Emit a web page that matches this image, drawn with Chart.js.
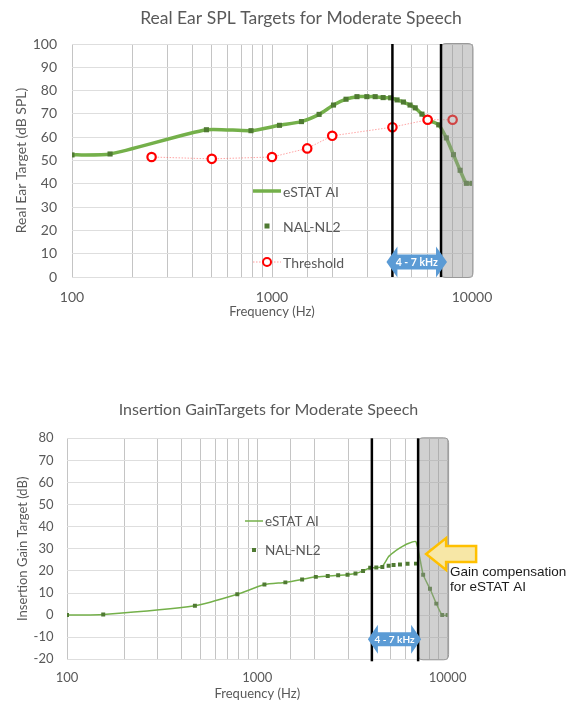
<!DOCTYPE html>
<html>
<head>
<meta charset="utf-8">
<script src="https://cdn.jsdelivr.net/npm/chart.js@4.4.1/dist/chart.umd.min.js"></script>
<style>
  body { margin: 0; background: #fff; }
  canvas { position: absolute; left: 0; }
  #splChart { top: 0; }
  #gainChart { top: 390px; }
</style>
</head>
<body>
<canvas id="splChart" width="571" height="330"></canvas>
<canvas id="gainChart" width="571" height="312"></canvas>
<script>
// frequencies (Hz) of the target points, shared by both charts
const freqs = [100, 155, 470, 785, 1090, 1404, 1720, 2030, 2345, 2660, 2980, 3280, 3595, 3920,
  4220, 4540, 4900, 5200, 5620, 6160, 6820, 7440, 8080, 8720, 9370, 10000];

// Real ear SPL targets (dB SPL)
const nalSpl = [52.4, 52.8, 63.2, 62.8, 65.1, 66.7, 69.8, 73.8, 76.3, 77.4, 77.4, 77.4, 77.0, 76.9,
  76.0, 75.1, 73.8, 72.6, 69.9, 67.1, 65.3, 59.7, 52.5, 45.8, 40.2, 40.2];
const estatSpl = [52.4, 52.8, 63.2, 62.8, 65.1, 66.7, 69.8, 73.8, 76.3, 77.4, 77.4, 77.4, 77.0, 76.9,
  76.0, 75.1, 73.8, 72.6, 69.9, 67.1, 65.3, 59.7, 52.5, 45.8, 40.2, 40.2];

// hearing threshold
const thresholdFreqs = [250, 500, 1000, 1500, 2000, 4000, 6000, 8000];
const thresholdSpl = [51.5, 50.7, 51.5, 55.2, 60.6, 64.3, 67.5, 67.5];

// insertion gain targets (dB)
const nalGain = [0, 0.3, 4.2, 9.4, 13.8, 14.8, 16.1, 17.3, 17.7, 18.0, 18.3, 18.8, 20.0, 21.4,
  21.5, 21.8, 22.3, 22.7, 22.9, 23.2, 23.3, 18.3, 11.9, 5.2, 0, 0];
const estatGain = [0, 0.3, 4.2, 9.4, 13.8, 14.8, 16.1, 17.3, 17.7, 18.0, 18.3, 18.8, 20.0, 21.4,
  21.5, 22.0, 26.5, 28.4, 30.4, 32.3, 33.2, 18.3, 11.9, 5.2, 0, 0];

const freqTicks = [100, 1000, 10000];
const band = [4000, 7000]; // 4 - 7 kHz region
const cutoff = [7000, 10000]; // shaded region

const GREEN = '#74b04a';
const DARK_GREEN = '#4f7a32';
const TEXT = '#595959';

Chart.defaults.font.family = 'Lato';
Chart.defaults.color = TEXT;

function pts(xs, ys) {
  return xs.map((f, i) => ({ x: f, y: ys[i] }));
}

function roundRect(ctx, x, y, w, h, r) {
  ctx.beginPath();
  ctx.moveTo(x + r, y);
  ctx.lineTo(x + w - r, y);
  ctx.quadraticCurveTo(x + w, y, x + w, y + r);
  ctx.lineTo(x + w, y + h - r);
  ctx.quadraticCurveTo(x + w, y + h, x + w - r, y + h);
  ctx.lineTo(x + r, y + h);
  ctx.quadraticCurveTo(x, y + h, x, y + h - r);
  ctx.lineTo(x, y + r);
  ctx.quadraticCurveTo(x, y, x + r, y);
  ctx.closePath();
}

// draws title, shaded band, 4-7 kHz marker, legend and notes
const decor = {
  id: 'decor',
  afterDatasetsDraw(chart, args, o) {
    const { ctx, chartArea: a, scales: { x } } = chart;
    const x4 = x.getPixelForValue(band[0]);
    const x7 = x.getPixelForValue(band[1]);
    const xs = x.getPixelForValue(cutoff[0]);
    const xe = x.getPixelForValue(cutoff[1]);
    ctx.save();

    // shaded area above 7 kHz
    roundRect(ctx, xs, a.top - 0.5, xe - xs + 1, a.bottom - a.top + 1, 5);
    ctx.fillStyle = 'rgba(150,150,150,0.45)';
    ctx.fill();
    ctx.strokeStyle = '#999';
    ctx.lineWidth = 1;
    ctx.stroke();

    // band edges
    ctx.strokeStyle = '#000';
    ctx.lineWidth = 2.5;
    [x4, x7].forEach(px => {
      ctx.beginPath();
      ctx.moveTo(px, a.top);
      ctx.lineTo(px, a.bottom + o.edgeExtra);
      ctx.stroke();
    });

    // double arrow
    const ar = o.arrow;
    const l = x4 + ar.dl, r = x7 + ar.dr, cy = a.bottom - ar.up;
    ctx.beginPath();
    ctx.moveTo(l, cy);
    ctx.lineTo(l + ar.head, cy - ar.hh);
    ctx.lineTo(l + ar.head, cy - ar.bh);
    ctx.lineTo(r - ar.head, cy - ar.bh);
    ctx.lineTo(r - ar.head, cy - ar.hh);
    ctx.lineTo(r, cy);
    ctx.lineTo(r - ar.head, cy + ar.hh);
    ctx.lineTo(r - ar.head, cy + ar.bh);
    ctx.lineTo(l + ar.head, cy + ar.bh);
    ctx.lineTo(l + ar.head, cy + ar.hh);
    ctx.closePath();
    ctx.fillStyle = '#5b9bd5';
    ctx.fill();
    ctx.fillStyle = '#fff';
    ctx.font = 'bold ' + ar.font + 'px Lato';
    ctx.textAlign = 'center';
    ctx.textBaseline = 'middle';
    ctx.fillText('4 - 7 kHz', (l + r) / 2, cy + 0.5);

    // title
    ctx.fillStyle = TEXT;
    ctx.font = o.title.size + 'px Lato';
    ctx.fillText(o.title.text, o.title.x, o.title.y);

    // legend
    ctx.textAlign = 'left';
    ctx.font = o.legend.size + 'px Lato';
    o.legend.items.forEach(it => {
      const lx = o.legend.x, y = it.y, w = o.legend.w;
      if (it.kind === 'line') {
        ctx.strokeStyle = GREEN;
        ctx.lineWidth = it.width;
        ctx.beginPath();
        ctx.moveTo(lx, y);
        ctx.lineTo(lx + w, y);
        ctx.stroke();
      } else if (it.kind === 'rect') {
        ctx.fillStyle = DARK_GREEN;
        ctx.fillRect(lx + w / 2 - it.s / 2, y - it.s / 2, it.s, it.s);
      } else {
        ctx.strokeStyle = 'rgba(255,90,90,0.6)';
        ctx.lineWidth = 1;
        ctx.setLineDash([1.5, 1.5]);
        ctx.beginPath();
        ctx.moveTo(lx, y);
        ctx.lineTo(lx + w, y);
        ctx.stroke();
        ctx.setLineDash([]);
        ctx.fillStyle = '#fff';
        ctx.strokeStyle = '#ff0000';
        ctx.lineWidth = 2;
        ctx.beginPath();
        ctx.arc(lx + w / 2, y, 4, 0, Math.PI * 2);
        ctx.fill();
        ctx.stroke();
      }
      ctx.fillStyle = TEXT;
      ctx.fillText(it.text, lx + w + o.legend.gap, y + 1);
    });

    // gain compensation note
    if (o.note) {
      const n = o.note;
      const tx = xs + n.dx;
      ctx.beginPath();
      ctx.moveTo(tx, n.y);
      ctx.lineTo(tx + n.head, n.y - n.hh);
      ctx.lineTo(tx + n.head, n.y - n.bh);
      ctx.lineTo(tx + n.len, n.y - n.bh);
      ctx.lineTo(tx + n.len, n.y + n.bh);
      ctx.lineTo(tx + n.head, n.y + n.bh);
      ctx.lineTo(tx + n.head, n.y + n.hh);
      ctx.closePath();
      ctx.fillStyle = '#f7e7a6';
      ctx.fill();
      ctx.strokeStyle = '#ffc000';
      ctx.lineWidth = 2.5;
      ctx.lineJoin = 'miter';
      ctx.stroke();
      ctx.fillStyle = '#1a1a1a';
      ctx.font = n.size + 'px "Liberation Sans"';
      n.lines.forEach((t, i) => ctx.fillText(t, n.tx, n.ty + i * n.lh));
    }
    ctx.restore();
  }
};

function xScale(labelSize, pad, height, titleSize, titlePad) {
  return {
    type: 'logarithmic',
    min: 100,
    max: 10000,
    afterFit: s => { s.height = height; },
    grid: { color: '#c4c4c4', drawTicks: false },
    border: { display: false },
    ticks: {
      autoSkip: false,
      maxRotation: 0,
      padding: pad,
      font: { size: labelSize },
      callback: v => freqTicks.includes(Math.round(v)) ? String(Math.round(v)) : ''
    },
    title: { display: true, text: 'Frequency (Hz)', font: { size: titleSize }, padding: { top: 0, bottom: titlePad } }
  };
}

// ---- Real Ear SPL chart ----
new Chart(document.getElementById('splChart'), {
  type: 'line',
  data: {
    datasets: [
      {
        label: 'Threshold',
        data: pts(thresholdFreqs, thresholdSpl),
        borderColor: 'rgba(255,90,90,0.55)',
        borderWidth: 1,
        borderDash: [1.5, 1.5],
        pointStyle: 'circle',
        pointRadius: 4.2,
        pointBorderWidth: 2.2,
        pointBorderColor: '#ff0000',
        pointBackgroundColor: '#fff',
        tension: 0
      },
      {
        label: 'NAL-NL2',
        data: pts(freqs, nalSpl),
        showLine: false,
        pointStyle: 'rect',
        pointRadius: 3.6,
        pointBorderWidth: 0,
        pointBackgroundColor: DARK_GREEN
      },
      {
        label: 'eSTAT AI',
        data: pts(freqs, estatSpl),
        borderColor: GREEN,
        borderWidth: 3.5,
        pointRadius: 0,
        tension: 0.2
      }
    ]
  },
  options: {
    responsive: false,
    animation: false,
    layout: { padding: { left: 0, right: 99, top: 44, bottom: 0 } },
    plugins: {
      legend: { display: false },
      title: { display: false },
      tooltip: { enabled: false },
      decor: {
        edgeExtra: 0,
        arrow: { dl: -6, dr: 6, up: 15, hh: 15.5, bh: 7.5, head: 11, font: 10.5 },
        title: { text: 'Real Ear SPL Targets for Moderate Speech', x: 301, y: 18, size: 17.5 },
        legend: {
          x: 253, w: 28, gap: 2, size: 14,
          items: [
            { kind: 'line', width: 3.5, y: 191, text: 'eSTAT AI' },
            { kind: 'rect', s: 5, y: 226, text: 'NAL-NL2' },
            { kind: 'circle', y: 262, text: 'Threshold' }
          ]
        }
      }
    },
    scales: {
      x: xScale(14, 12, 53, 13, 10),
      y: {
        min: 0,
        max: 100,
        afterFit: s => { s.width = 72; },
        grid: { color: '#dedede', drawTicks: false },
        border: { display: false },
        ticks: {
          stepSize: 5,
          padding: 15,
          font: { size: 14 },
          callback: v => v % 10 === 0 ? v : ''
        },
        title: { display: true, text: 'Real Ear Target (dB SPL)', font: { size: 14 }, padding: { top: 13.5, bottom: 0 } }
      }
    }
  },
  plugins: [decor]
});

// ---- Insertion gain chart ----
new Chart(document.getElementById('gainChart'), {
  type: 'line',
  data: {
    datasets: [
      {
        label: 'NAL-NL2',
        data: pts(freqs, nalGain),
        showLine: false,
        pointStyle: 'rect',
        pointRadius: 2.8,
        pointBorderWidth: 0,
        pointBackgroundColor: DARK_GREEN
      },
      {
        label: 'eSTAT AI',
        data: pts(freqs, estatGain),
        borderColor: GREEN,
        borderWidth: 1.5,
        pointRadius: 0,
        tension: 0.2
      }
    ]
  },
  options: {
    responsive: false,
    animation: false,
    layout: { padding: { left: 0, right: 123.4, top: 48.3, bottom: 0 } },
    plugins: {
      legend: { display: false },
      title: { display: false },
      tooltip: { enabled: false },
      decor: {
        edgeExtra: 2,
        arrow: { dl: -4, dr: 3, up: 20, hh: 14.5, bh: 7, head: 10, font: 10 },
        title: { text: 'Insertion GainTargets for Moderate Speech', x: 268.5, y: 20, size: 16 },
        legend: {
          x: 245, w: 18, gap: 2, size: 13.5,
          items: [
            { kind: 'line', width: 1.5, y: 131, text: 'eSTAT AI' },
            { kind: 'rect', s: 4, y: 160, text: 'NAL-NL2' }
          ]
        },
        note: {
          dx: 8, y: 164, head: 20, hh: 16, bh: 8, len: 50,
          tx: 450, ty: 182, lh: 15, size: 13.5,
          lines: ['Gain compensation', 'for eSTAT AI']
        }
      }
    },
    scales: {
      x: xScale(13, 10.5, 42.7, 13, 0),
      y: {
        min: -20,
        max: 80,
        afterFit: s => { s.width = 67; },
        grid: { color: '#dedede', drawTicks: false },
        border: { display: false },
        ticks: { stepSize: 10, padding: 13.5, font: { size: 13 } },
        title: { display: true, text: 'Insertion Gain Target (dB)', font: { size: 13 }, padding: { top: 15.5, bottom: 0 } }
      }
    }
  },
  plugins: [decor]
});
</script>
</body>
</html>
